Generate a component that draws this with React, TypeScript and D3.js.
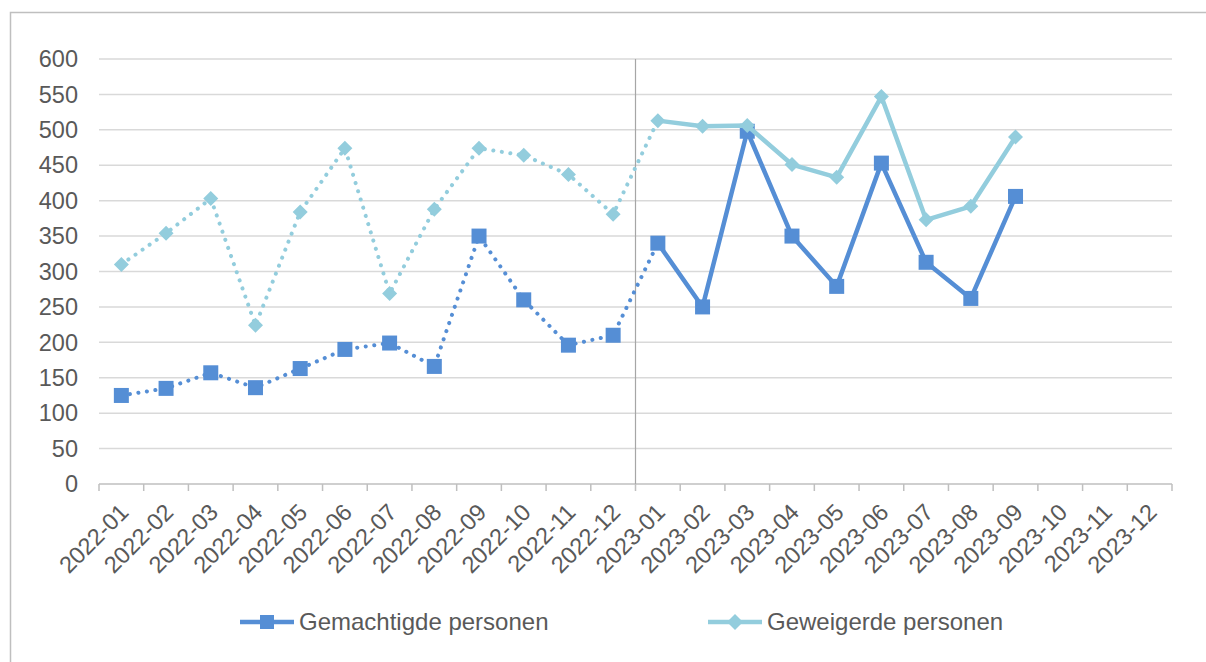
import React from "react";
import * as d3 from "d3";

const months = [
  "2022-01", "2022-02", "2022-03", "2022-04", "2022-05", "2022-06",
  "2022-07", "2022-08", "2022-09", "2022-10", "2022-11", "2022-12",
  "2023-01", "2023-02", "2023-03", "2023-04", "2023-05", "2023-06",
  "2023-07", "2023-08", "2023-09", "2023-10", "2023-11", "2023-12",
];

const gemachtigde = [
  125, 135, 157, 136, 163, 190, 199, 166, 350, 260, 196, 210,
  340, 250, 498, 350, 279, 453, 313, 262, 406,
];

const geweigerde = [
  310, 354, 403, 224, 384, 474, 269, 388, 474, 464, 437, 381,
  513, 505, 506, 451, 433, 547, 373, 392, 490,
];

const yTicks = [0, 50, 100, 150, 200, 250, 300, 350, 400, 450, 500, 550, 600];

const seriesNames = ["Gemachtigde personen", "Geweigerde personen"];

const darkBlue = "#558ED5";
const lightBlue = "#93CDDD";
const textColor = "#595959";
const font = "'Liberation Sans', Arial, sans-serif";

const W = 1206;
const H = 662;
const plot = { left: 99, right: 1172, top: 59, bottom: 484 };
const splitIndex = 12; // first month of 2023

export default function App() {
  const x = d3
    .scaleBand<string>()
    .domain(months)
    .range([plot.left, plot.right])
    .paddingInner(0)
    .paddingOuter(0);
  const y = d3.scaleLinear().domain([0, 600]).range([plot.bottom, plot.top]);
  const cx = (i: number) => (x(months[i]) as number) + x.bandwidth() / 2;

  const lineGen = d3
    .line<[number, number]>()
    .x((d) => cx(d[0]))
    .y((d) => y(d[1]));

  const pairs = (vals: number[]) => vals.map((v, i) => [i, v] as [number, number]);

  const renderSeries = (vals: number[], color: string, marker: "square" | "diamond") => {
    const p = pairs(vals);
    const dotted = p.slice(0, splitIndex + 1);
    const solid = p.slice(splitIndex);
    return (
      <g>
        <path
          d={lineGen(dotted) || ""}
          fill="none"
          stroke={color}
          strokeWidth={4}
          strokeLinecap="round"
          strokeDasharray="0.1 8.5"
        />
        <path
          d={lineGen(solid) || ""}
          fill="none"
          stroke={color}
          strokeWidth={4.5}
          strokeLinejoin="round"
        />
        {p.map(([i, v]) =>
          marker === "square" ? (
            <rect key={i} x={cx(i) - 7.5} y={y(v) - 7.5} width={15} height={15} fill={color} />
          ) : (
            <path
              key={i}
              d={`M${cx(i)},${y(v) - 7.5}L${cx(i) + 7.5},${y(v)}L${cx(i)},${y(v) + 7.5}L${cx(i) - 7.5},${y(v)}Z`}
              fill={color}
            />
          )
        )}
      </g>
    );
  };

  const edges = d3.range(months.length + 1).map((i) => plot.left + i * x.bandwidth());

  const legend = [
    { name: seriesNames[0], color: darkBlue, marker: "square", x0: 240 },
    { name: seriesNames[1], color: lightBlue, marker: "diamond", x0: 708 },
  ];

  return (
    <svg
      width={W}
      height={H}
      style={{ position: "absolute", left: 0, top: 0, background: "white", fontFamily: font }}
    >
      <rect x={10.5} y={12.5} width={W + 10} height={H + 10} fill="white" stroke="#BFBFBF" strokeWidth={1.5} />

      {/* grid */}
      {yTicks.map((t) => (
        <g key={t}>
          {t > 0 && (
            <line x1={plot.left} x2={plot.right} y1={y(t)} y2={y(t)} stroke="#D9D9D9" strokeWidth={1.5} />
          )}
          <text x={78} y={y(t)} dy="0.35em" textAnchor="end" fontSize={23.5} fill={textColor}>
            {t}
          </text>
        </g>
      ))}

      {/* x axis */}
      <line x1={plot.left} x2={plot.right} y1={plot.bottom} y2={plot.bottom} stroke="#BFBFBF" strokeWidth={1.5} />
      {edges.map((e, i) => (
        <line key={i} x1={e} x2={e} y1={plot.bottom} y2={plot.bottom + 7} stroke="#BFBFBF" strokeWidth={1.5} />
      ))}
      <line
        x1={edges[splitIndex]}
        x2={edges[splitIndex]}
        y1={plot.top}
        y2={plot.bottom}
        stroke="#A6A6A6"
        strokeWidth={1.2}
      />
      {months.map((m, i) => (
        <text
          key={m}
          transform={`translate(${cx(i) - 3},${plot.bottom + 18}) rotate(-45)`}
          textAnchor="end"
          dy="0.7em"
          fontSize={23.5}
          fill={textColor}
        >
          {m}
        </text>
      ))}

      {renderSeries(gemachtigde, darkBlue, "square")}
      {renderSeries(geweigerde, lightBlue, "diamond")}

      {/* legend */}
      {legend.map((l) => (
        <g key={l.name}>
          <line x1={l.x0} x2={l.x0 + 54} y1={622} y2={622} stroke={l.color} strokeWidth={4.5} />
          {l.marker === "square" ? (
            <rect x={l.x0 + 20} y={615} width={14} height={14} fill={l.color} />
          ) : (
            <path
              d={`M${l.x0 + 27},614L${l.x0 + 35},622L${l.x0 + 27},630L${l.x0 + 19},622Z`}
              fill={l.color}
            />
          )}
          <text x={l.x0 + 59} y={622} dy="0.35em" fontSize={24} fill={textColor}>
            {l.name}
          </text>
        </g>
      ))}
    </svg>
  );
}
